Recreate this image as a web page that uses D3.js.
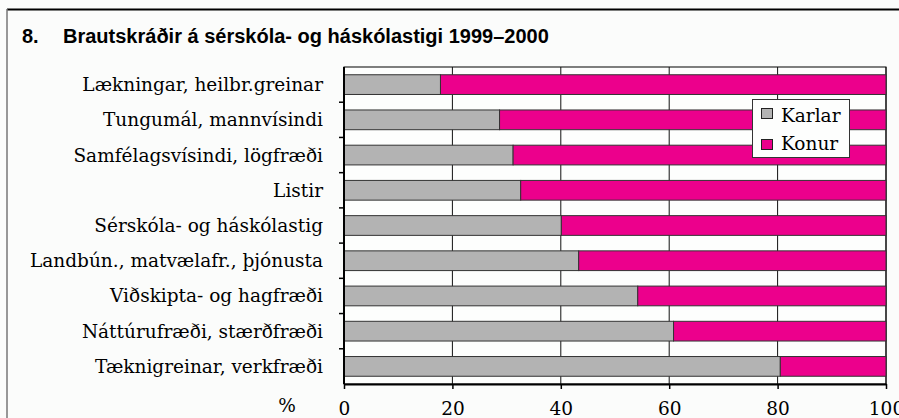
<!DOCTYPE html>
<html>
<head>
<meta charset="utf-8">
<script src="https://cdn.jsdelivr.net/npm/d3@7"></script>
<style>
  body { margin: 0; background: #fbfcfb; }
  svg { display: block; }
</style>
</head>
<body>
<svg id="chart" width="899" height="418"></svg>
<script>
// Graduates at specialist and university level, 1999-2000, share by sex

var categories = [
  "Lækningar, heilbr.greinar",
  "Tungumál, mannvísindi",
  "Samfélagsvísindi, lögfræði",
  "Listir",
  "Sérskóla- og háskólastig",
  "Landbún., matvælafr., þjónusta",
  "Viðskipta- og hagfræði",
  "Náttúrufræði, stærðfræði",
  "Tæknigreinar, verkfræði"
];
var karlar = [17.8, 28.7, 31.2, 32.6, 40.1, 43.3, 54.2, 60.8, 80.5];
var konur = karlar.map(function (v) { return 100 - v; });
var seriesNames = ["Karlar", "Konur"];
var seriesColors = ["#b3b3b3", "#ec008c"];
var xTicks = [0, 20, 40, 60, 80, 100];

var svg = d3.select("#chart");
var pLeft = 344, pRight = 886, pTop = 67, pBottom = 384;
var serif = "'DejaVu Serif', serif";
var serifSize = "18.5px";
var sans = "'Liberation Sans', Arial, sans-serif";

// outer frame
svg.append("line").attr("x1", 7).attr("x2", 899).attr("y1", 9.5).attr("y2", 9.5)
  .attr("stroke", "#000").attr("stroke-width", 2);
svg.append("line").attr("x1", 7).attr("x2", 7).attr("y1", 9).attr("y2", 418)
  .attr("stroke", "#777").attr("stroke-width", 1.5);

svg.append("text").attr("x", 22).attr("y", 43)
  .style("font-family", sans).style("font-weight", "bold").style("font-size", "20px")
  .text("8.");
svg.append("text").attr("x", 63).attr("y", 43)
  .style("font-family", sans).style("font-weight", "bold").style("font-size", "20px")
  .text("Brautskráðir á sérskóla- og háskólastigi 1999–2000");

var x = d3.scaleLinear().domain([0, 100]).range([pLeft, pRight]);
var y = d3.scaleBand().domain(categories).range([pTop, pBottom]).paddingInner(0.44).paddingOuter(0.22);

// plot background + gridlines
svg.append("rect").attr("x", pLeft).attr("y", pTop).attr("width", pRight - pLeft).attr("height", pBottom - pTop)
  .attr("fill", "#fdfefd").attr("stroke", "#000").attr("stroke-width", 1);
svg.append("g").selectAll("line").data(xTicks.slice(1)).enter().append("line")
  .attr("x1", function (d) { return x(d); }).attr("x2", function (d) { return x(d); })
  .attr("y1", pTop).attr("y2", pBottom)
  .attr("stroke", "#111").attr("stroke-width", 1);

var stacked = categories.map(function (c, i) { return { cat: c, Karlar: karlar[i], Konur: konur[i] }; });
var series = d3.stack().keys(seriesNames)(stacked);

svg.append("g").selectAll("g").data(series).enter().append("g")
  .attr("fill", function (d, i) { return seriesColors[i]; })
  .selectAll("rect").data(function (d) { return d; }).enter().append("rect")
  .attr("x", function (d) { return x(d[0]); })
  .attr("y", function (d) { return y(d.data.cat); })
  .attr("width", function (d) { return x(d[1]) - x(d[0]); })
  .attr("height", y.bandwidth())
  .attr("stroke", "#333").attr("stroke-width", 1);

// axes
var yTickPos = d3.range(1, categories.length).map(function (i) { return pTop + i * (pBottom - pTop) / categories.length; });
svg.append("g").selectAll("line").data(yTickPos).enter().append("line")
  .attr("x1", pLeft - 5).attr("x2", pLeft).attr("y1", function (d) { return d; }).attr("y2", function (d) { return d; })
  .attr("stroke", "#000").attr("stroke-width", 1.5);
svg.append("line").attr("x1", pLeft).attr("x2", pLeft).attr("y1", pTop).attr("y2", pBottom)
  .attr("stroke", "#000").attr("stroke-width", 2);

var xAxis = svg.append("g").attr("transform", "translate(0," + pBottom + ")")
  .call(d3.axisBottom(x).tickValues(xTicks).tickSize(5).tickSizeOuter(0).tickPadding(13));
xAxis.select(".domain").attr("stroke-width", 2);
xAxis.selectAll("line").attr("stroke-width", 1.5);
xAxis.selectAll("text").style("font-family", serif).style("font-size", serifSize).attr("fill", "#000");

svg.append("text").attr("x", 287).attr("y", 412).attr("text-anchor", "middle")
  .style("font-family", serif).style("font-size", serifSize).text("%");

svg.append("g").selectAll("text").data(categories).enter().append("text")
  .attr("x", 323)
  .attr("y", function (d) { return y(d) + y.bandwidth() / 2; })
  .attr("dy", "0.35em")
  .attr("text-anchor", "end")
  .style("font-family", serif).style("font-size", serifSize)
  .text(function (d) { return d; });

// legend
var lg = svg.append("g");
lg.append("rect").attr("x", 752.5).attr("y", 99.5).attr("width", 97).attr("height", 58)
  .attr("fill", "#fdfefd").attr("stroke", "#333").attr("stroke-width", 1);
var li = lg.selectAll("g.item").data(seriesNames).enter().append("g").attr("class", "item");
li.append("rect").attr("x", 761.5).attr("y", function (d, i) { return 108.5 + i * 31; })
  .attr("width", 11).attr("height", 10)
  .attr("fill", function (d, i) { return seriesColors[i]; }).attr("stroke", "#222");
li.append("text").attr("x", 781).attr("y", function (d, i) { return 121.5 + i * 28.5; })
  .style("font-family", serif).style("font-size", serifSize)
  .text(function (d) { return d; });
</script>
</body>
</html>
